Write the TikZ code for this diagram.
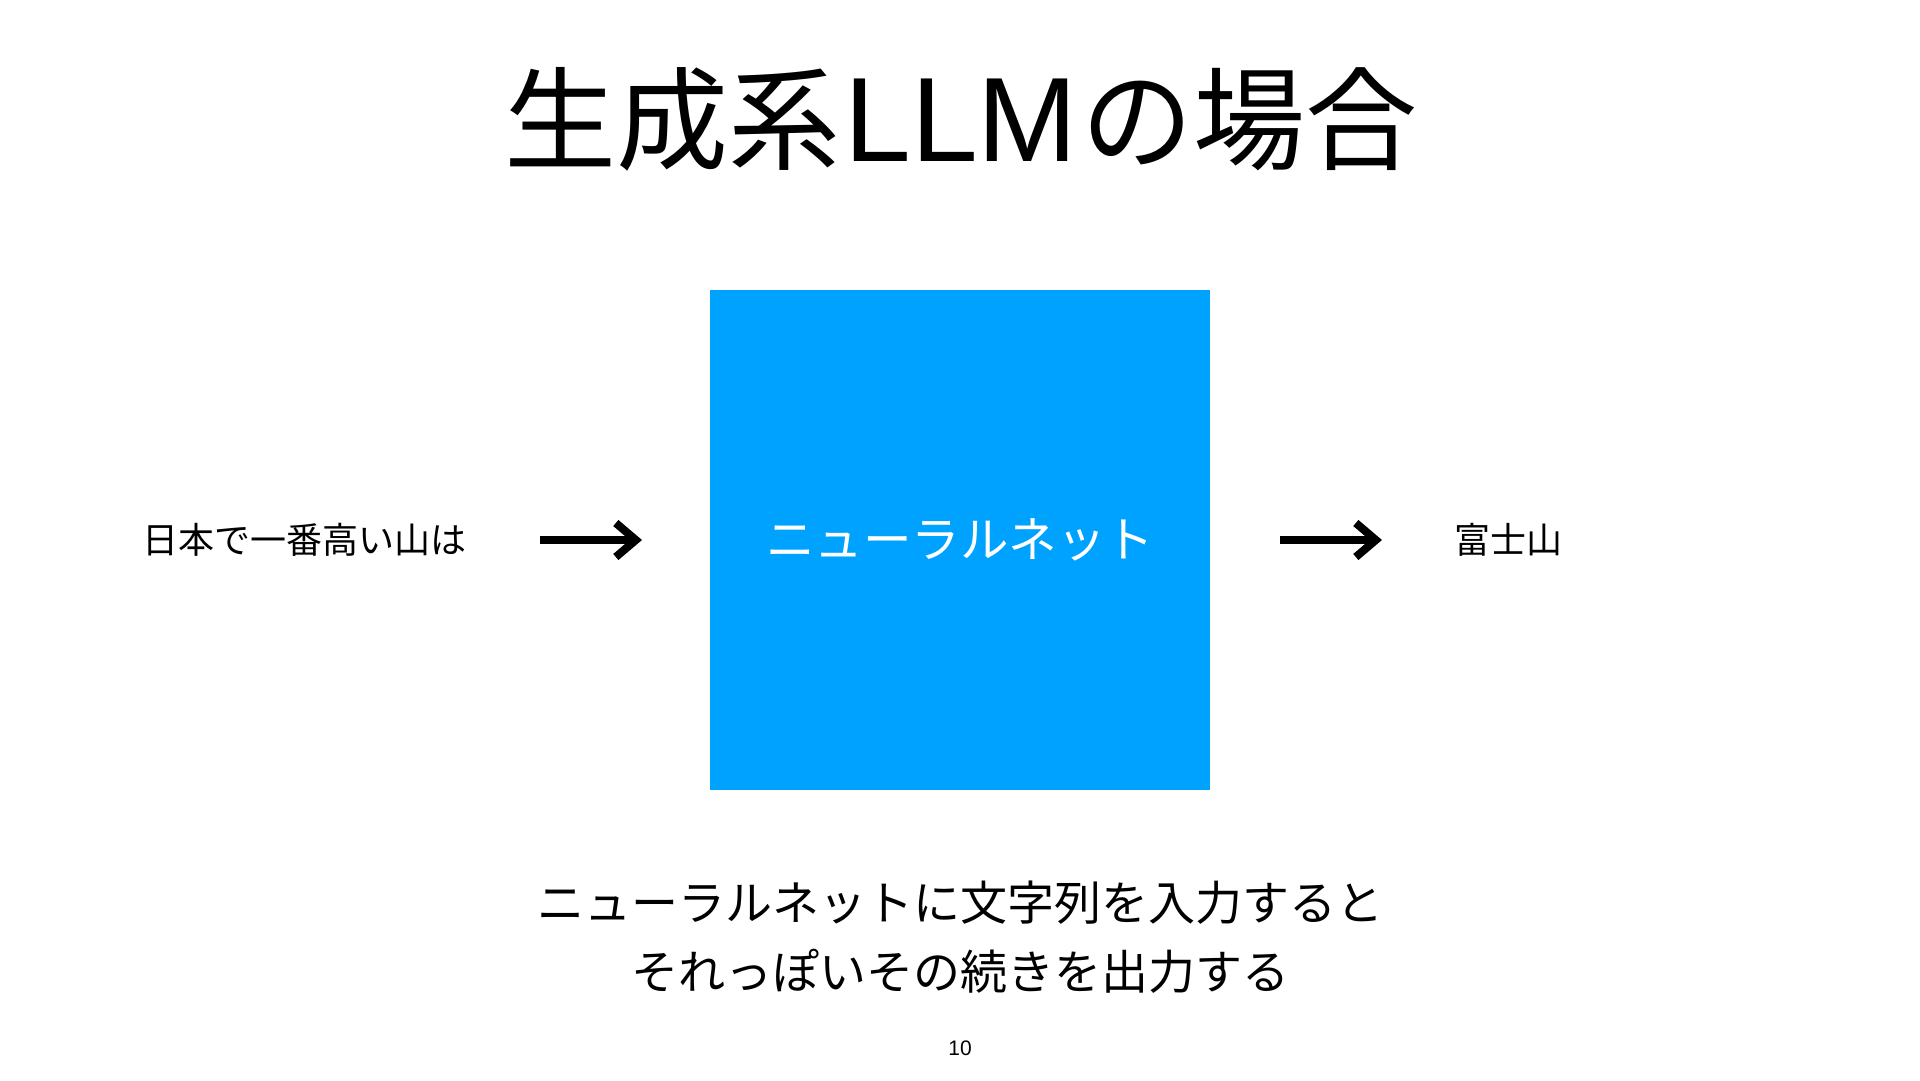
\documentclass[tikz,border=0pt]{standalone}
\usepackage{fontspec}
\setmainfont{Noto Sans CJK JP}
\newfontfamily\latinfont{Liberation Sans}
\usetikzlibrary{arrows.meta}
\definecolor{nnblue}{HTML}{00A2FF}
\tikzset{
  arrowline/.style={line width=8pt,-{Straight Barb[length=20pt,width=34pt,line width=8pt]}},
  sidetext/.style={font=\fontsize{36}{42}\selectfont,inner sep=0pt},
}
\begin{document}
\begin{tikzpicture}[x=1pt,y=-1pt]
\useasboundingbox (0,0) rectangle (1920,1080);
\fill[white] (0,0) rectangle (1920,1080);
\node[font=\fontsize{112}{120}\selectfont,inner sep=0pt] (title) at (961,119) {生成系\kern4pt{\latinfont\fontsize{120}{120}\selectfont LLM}\kern4pt の場合};
\node[fill=nnblue,minimum size=500pt,inner sep=0pt,text=white,font=\fontsize{48.5}{52}\selectfont] (nn) at (960,540) {ニューラルネット};
\node[sidetext] (in) at (304,540) {日本で一番高い山は};
\node[sidetext] (out) at (1508,540) {富士山};
\coordinate (a1s) at (540,540);
\coordinate (a1e) at (642,540);
\coordinate (a2s) at (1280,540);
\coordinate (a2e) at (1382,540);
\draw[arrowline] (a1s) -- (a1e);
\draw[arrowline] (a2s) -- (a2e);
\node[align=center,font=\fontsize{47}{69}\selectfont,inner sep=0pt] (caption) at (960,937) {ニューラルネットに文字列を入力すると\\それっぽいその続きを出力する};
\node[font=\fontsize{21}{24}\selectfont\latinfont,inner sep=0pt] (page) at (960,1048) {10};
\end{tikzpicture}
\end{document}
